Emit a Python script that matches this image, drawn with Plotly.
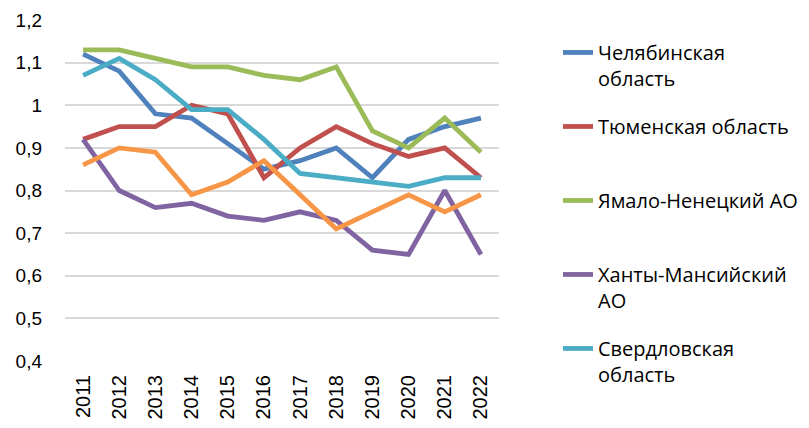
import plotly.graph_objects as go

years = [str(y) for y in range(2011, 2023)]

chelyabinsk = [1.12, 1.08, 0.98, 0.97, 0.91, 0.85, 0.87, 0.90, 0.83, 0.92, 0.95, 0.97]
tyumen = [0.92, 0.95, 0.95, 1.00, 0.98, 0.83, 0.90, 0.95, 0.91, 0.88, 0.90, 0.83]
yamal = [1.13, 1.13, 1.11, 1.09, 1.09, 1.07, 1.06, 1.09, 0.94, 0.90, 0.97, 0.89]
khanty = [0.92, 0.80, 0.76, 0.77, 0.74, 0.73, 0.75, 0.73, 0.66, 0.65, 0.80, 0.65]
sverdlovsk = [1.07, 1.11, 1.06, 0.99, 0.99, 0.92, 0.84, 0.83, 0.82, 0.81, 0.83, 0.83]
unnamed = [0.86, 0.90, 0.89, 0.79, 0.82, 0.87, 0.79, 0.71, 0.75, 0.79, 0.75, 0.79]

series = [
    ("Челябинская<br>область", chelyabinsk, "#4F81BD", True),
    ("Тюменская область<br> ", tyumen, "#C0504D", True),
    ("Ямало-Ненецкий АО<br> ", yamal, "#9BBB59", True),
    ("Ханты-Мансийский<br>АО", khanty, "#8064A2", True),
    ("Свердловская<br>область", sverdlovsk, "#4BACC6", True),
    ("", unnamed, "#F79646", False),
]

fig = go.Figure()
for i, (name, vals, color, show) in enumerate(series):
    fig.add_trace(go.Scatter(
        x=years, y=vals, mode="lines", name=name,
        line=dict(color=color, width=4.8),
        showlegend=show, legendgroup=f"g{i}",
    ))

fig.update_layout(
    width=809, height=428,
    margin=dict(l=57, r=318, t=12, b=75, autoexpand=False),
    paper_bgcolor="white", plot_bgcolor="white",
    separators=", ",
    font=dict(family="Open Sans", color="#000000"),
    showlegend=True,
    legend=dict(
        x=1.136, y=0.962, xanchor="left", yanchor="top",
        font=dict(family="Open Sans", size=20, color="#000000"),
        valign="top", tracegroupgap=19, maxheight=420,
        bgcolor="rgba(0,0,0,0)",
    ),
)
fig.update_xaxes(
    type="category", range=[-0.5, 11.5],
    showgrid=False, showline=False, zeroline=False,
    tickangle=-90, tickfont=dict(family="Liberation Sans", size=20, color="#000000"),
    ticks="", ticklabelstandoff=9,
)
fig.update_yaxes(
    range=[0.4, 1.2001], dtick=0.1, tick0=0.4,
    showgrid=True, gridcolor="#D9D9D9", gridwidth=1.5,
    zeroline=False, showline=False, ticks="",
    tickfont=dict(family="Liberation Sans", size=19, color="#000000"),
    ticklabelstandoff=22, ticklabeloverflow="allow",
)

fig.write_html("out.html")
